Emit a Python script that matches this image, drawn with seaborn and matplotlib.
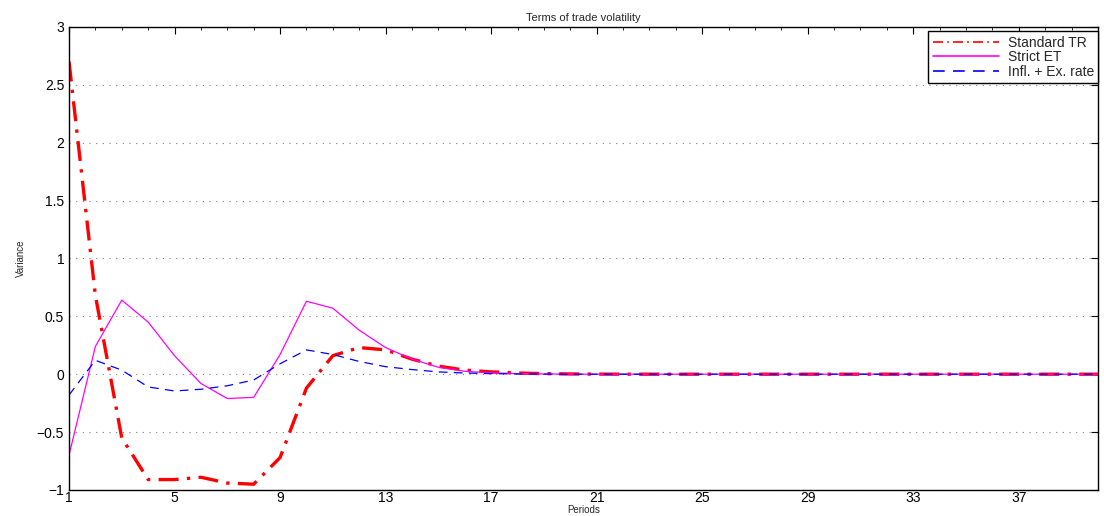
import numpy as np
import pandas as pd
import matplotlib
matplotlib.use("Agg")
import matplotlib.pyplot as plt
import seaborn as sns
from matplotlib.ticker import MultipleLocator

periods = list(range(1, 41))

standard_tr = [2.70, 0.68, -0.55, -0.91, -0.91, -0.89, -0.94, -0.95, -0.72, -0.12,
               0.16, 0.23, 0.21, 0.13, 0.07, 0.035, 0.02, 0.01, 0.005, 0.002,
               0.001, 0.0, 0.0, 0.0, 0.0, 0.0, 0.0, 0.0, 0.0, 0.0,
               0.0, 0.0, 0.0, 0.0, 0.0, 0.0, 0.0, 0.0, 0.0, 0.0]

strict_et = [-0.70, 0.24, 0.64, 0.45, 0.16, -0.08, -0.21, -0.20, 0.17, 0.63,
             0.57, 0.38, 0.23, 0.13, 0.06, 0.025, 0.012, 0.005, 0.002, 0.001,
             0.0, 0.0, 0.0, 0.0, 0.0, 0.0, 0.0, 0.0, 0.0, 0.0,
             0.0, 0.0, 0.0, 0.0, 0.0, 0.0, 0.0, 0.0, 0.0, 0.0]

infl_ex = [-0.18, 0.12, 0.035, -0.11, -0.145, -0.13, -0.10, -0.05, 0.09, 0.21,
           0.17, 0.11, 0.065, 0.04, 0.02, 0.01, 0.005, 0.002, 0.001, 0.0,
           0.0, 0.0, 0.0, 0.0, 0.0, 0.0, 0.0, 0.0, 0.0, 0.0,
           0.0, 0.0, 0.0, 0.0, 0.0, 0.0, 0.0, 0.0, 0.0, 0.0]

series_names = ["Standard TR", "Strict ET", "Infl. + Ex. rate"]

df = pd.DataFrame({
    "Periods": periods * 3,
    "Variance": standard_tr + strict_et + infl_ex,
    "series": [series_names[0]] * 40 + [series_names[1]] * 40 + [series_names[2]] * 40,
})

sns.set_style("white")
plt.rcParams['font.family'] = ['Liberation Sans', 'DejaVu Sans']

fig = plt.figure(figsize=(11.04, 5.16), dpi=100)
ax = fig.add_axes([0.0625, 0.0504, 0.932, 0.8976])

styles = {
    "Standard TR": dict(color="red", linestyle=(0, (6, 2.5, 1, 2.5)), linewidth=2.4),
    "Strict ET": dict(color="magenta", linestyle="-", linewidth=0.9),
    "Infl. + Ex. rate": dict(color="blue", linestyle=(0, (7, 5)), linewidth=0.9),
}
for name in series_names:
    sns.lineplot(data=df[df["series"] == name], x="Periods", y="Variance",
                 ax=ax, label=name, **styles[name])

ax.set_xlim(1, 40)
ax.set_ylim(-1, 3)
ax.set_xticks(range(1, 41, 4))
ax.set_yticks(np.arange(-1, 3.01, 0.5))
ax.set_yticklabels(["\u22121", "\u22120.5", "0", "0.5", "1", "1.5", "2", "2.5", "3"])
ax.xaxis.set_minor_locator(MultipleLocator(1))
ax.tick_params(axis="both", which="both", direction="in", top=True, right=True,
               labelsize=10, colors="black")
ax.tick_params(axis="x", pad=1)
ax.tick_params(which="major", length=5)
ax.tick_params(which="minor", length=2.5)
ax.grid(axis="y", linestyle=(0, (1, 5)), color="gray", linewidth=0.8)
ax.grid(axis="x", visible=False)
for s in ax.spines.values():
    s.set_color("black")
    s.set_linewidth(1.0)

ax.set_title("Terms of trade volatility", fontsize=8, pad=4)
ax.set_xlabel("Periods", fontsize=7, labelpad=-0.5)
ax.set_ylabel("Variance", fontsize=7, labelpad=8)

leg = ax.legend(loc="upper right", bbox_to_anchor=(1.0, 0.99), fontsize=10,
                frameon=True, fancybox=False, edgecolor="black", framealpha=1,
                borderaxespad=0, handlelength=4.8, handletextpad=0.6,
                labelspacing=0.05, borderpad=0.3)
leg.get_frame().set_linewidth(1.0)
for line in leg.get_lines():
    line.set_linewidth(1.2)

fig.savefig("out.png", dpi=100)
